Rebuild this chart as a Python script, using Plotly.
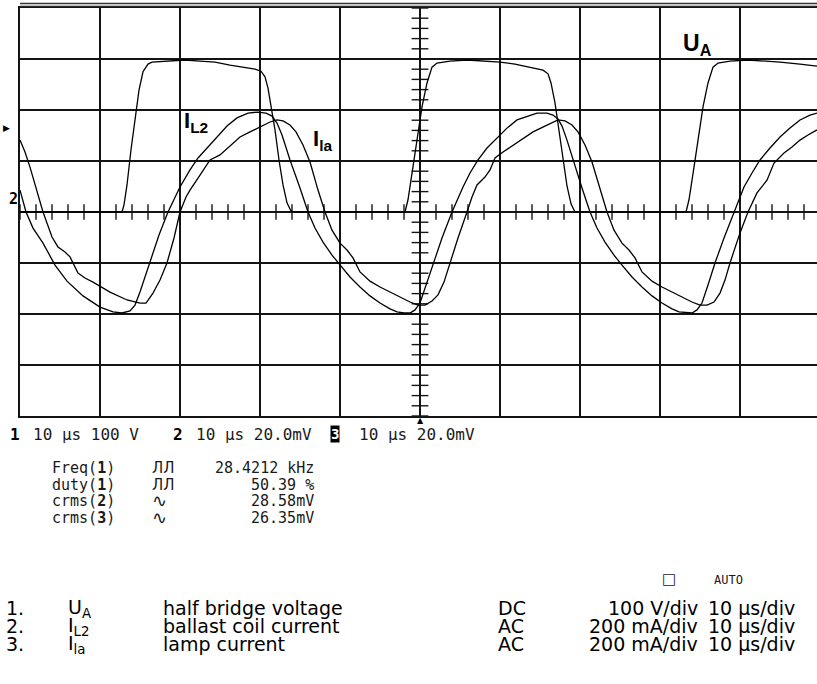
import numpy as np
import plotly.graph_objects as go

# ---------------- data ----------------
# time in microseconds (10 us/div), U_A in volts (100 V/div), currents in mA (200 mA/div)
ua_t = [0, 12.75, 13.0, 13.375, 13.875, 14.375, 14.875, 15.375, 16.0, 16.5, 18.75, 20.625,
        22.5, 24.375, 26.25, 28.125, 29.375, 30.125, 30.625, 31.0, 31.375, 31.875, 32.375,
        32.875, 33.375, 33.875, 34.25,
        48.125, 48.5, 49.125, 49.75, 50.25, 50.875, 51.5, 52.125, 53.75, 55.875, 58.125, 60.0,
        61.875, 63.75, 65.375, 66.0, 66.375, 66.875, 67.375, 67.875, 68.375, 68.875, 69.375,
        83.25, 83.625, 84.25, 84.875, 85.375, 86.0, 86.625, 87.25, 88.75, 91.0, 93.125, 95.0,
        97.5, 99.625]
ua_v = [0, 0, 14, 53, 122, 184, 239, 275, 290, 294, 296, 298,
        296, 294, 288, 284, 280, 276, 265, 243, 210, 161, 102,
        53, 18, 2, 0,
        0, 24, 88, 155, 206, 253, 284, 292, 296, 298, 296, 294,
        290, 284, 278, 271, 253, 214, 161, 102, 51, 16, 0,
        0, 24, 88, 155, 206, 253, 284, 292, 296, 298, 296, 294,
        290, 286]

il2_t = [0, 0.75, 1.625, 2.875, 4.375, 5.875, 7.875, 10.0, 11.625, 12.75, 13.75, 14.375, 15.0,
         16.25, 17.375, 18.5, 20.0, 21.25, 22.25, 23.5, 24.625, 25.875, 27.125, 28.5, 29.75,
         30.75, 31.5, 32.125, 32.75, 33.75, 35.0, 36.0, 36.875, 37.875, 39.0, 40.0, 41.25, 42.5,
         43.75, 45.0, 46.25, 47.125, 48.0, 48.75, 49.375, 50.0, 50.75, 51.625, 52.75, 54.0,
         54.75, 55.375, 56.25, 57.25, 58.375, 59.625, 60.875, 62.125, 63.375, 64.625, 65.875,
         66.625, 67.25, 67.75, 68.375, 69.25, 70.25, 71.25, 72.125, 73.125, 74.25, 75.25, 76.5,
         77.75, 79.0, 80.25, 81.5, 82.375, 83.375, 84.0, 84.625, 85.25, 86.0, 86.875, 88.0,
         89.25, 90.5, 91.5, 92.5, 93.75, 95.0, 96.25, 97.5, 98.75, 99.625]
il2_ma = [86, 0, -63, -122, -208, -271, -329, -373, -392, -396, -388, -365, -314,
          -200, -90, 0, 98, 165, 212, 255, 294, 337, 369, 388, 392,
          388, 376, 349, 302, 204, 94, 0, -63, -118, -169, -208, -255, -294,
          -329, -357, -380, -392, -396, -396, -384, -357, -286, -200, -102, 0,
          55, 98, 153, 204, 251, 290, 329, 361, 376, 388, 388,
          380, 365, 337, 282, 192, 94, 0, -63, -118, -169, -208, -255,
          -294, -329, -357, -380, -392, -396, -396, -384, -357, -286, -200, -102,
          0, 98, 153, 204, 251, 294, 329, 361, 380, 388]

ila_t = [0, 0.625, 1.25, 2.125, 2.875, 4.0, 4.75, 5.625, 6.25, 7.25, 8.125, 9.125, 11.25,
         13.375, 15.0, 15.75, 16.625, 17.5, 18.375, 19.25, 20.0, 20.75, 21.25, 22.5, 23.75,
         25.0, 26.25, 27.5, 28.75, 30.0, 31.25, 32.125, 32.875, 33.75, 34.5, 35.375, 36.25,
         37.25, 38.125, 39.0, 40.0, 40.875, 41.625, 42.5, 43.75, 45.0, 46.25, 47.5, 48.75,
         49.75, 50.625, 51.5, 52.25, 53.0, 53.75, 54.75, 55.875, 56.5, 57.125, 58.125, 58.75,
         59.375, 60.375, 61.5, 62.5, 64.125, 65.875, 67.25, 68.125, 69.0, 69.75, 70.625, 71.5,
         72.5, 73.375, 74.25, 75.25, 76.125, 76.875, 77.75, 79.0, 80.25, 81.5, 82.75, 84.0,
         85.0, 85.875, 86.75, 87.5, 88.125, 88.75, 90.0, 91.0, 92.125, 93.375, 94.25, 95.5,
         96.5, 97.5, 98.5, 99.625]
ila_ma = [282, 235, 176, 86, 0, -98, -137, -157, -176, -239, -259, -275, -314,
          -345, -357, -357, -318, -267, -200, -102, 0, 59, 86, 145, 204,
          224, 259, 294, 314, 333, 353, 361, 357, 341, 314, 263, 196,
          86, 0, -71, -122, -149, -180, -235, -271, -294, -314, -333, -353,
          -365, -365, -349, -325, -275, -200, -102, 0, 59, 106, 137, 165,
          212, 235, 259, 282, 314, 341, 361, 357, 341, 314, 263, 196,
          86, 0, -71, -122, -149, -180, -235, -271, -294, -314, -333, -353,
          -365, -365, -353, -318, -267, -200, -82, 0, 75, 125, 192, 231,
          255, 282, 302, 322]

header_texts = ["10 µs 100 V", "10 µs 20.0mV", "10 µs 20.0mV"]
meas_names = ["Freq(<b>1</b>)", "duty(<b>1</b>)", "crms(<b>2</b>)", "crms(<b>3</b>)"]
meas_icons = ["ЛЛ", "ЛЛ", "∿", "∿"]
meas_values = ["28.4212 kHz", "50.39 %", "28.58mV", "26.35mV"]

tab_num = ["1.", "2.", "3."]
tab_sym = ["U<sub>A</sub>", "I<sub>L2</sub>", "I<sub>la</sub>"]
tab_desc = ["half bridge voltage", "ballast coil current", "lamp current"]
tab_coupling = ["DC", "AC", "AC"]
tab_vdiv = ["100 V/div", "200 mA/div", "200 mA/div"]
tab_tdiv = ["10 µs/div", "10 µs/div", "10 µs/div"]

# ---------------- figure ----------------
W, H = 817, 684
def px(x):
    return x / W
def py(y):
    return 1 - y / H

GRID = "#141414"
fig = go.Figure()

# graticule minor ticks on the centre lines (decoration)
tick_t = np.arange(0, 100, 2.0)
fig.add_trace(go.Scatter(x=tick_t, y=np.zeros_like(tick_t), mode="markers",
                         marker=dict(symbol="line-ns", size=11, line=dict(width=1.4, color=GRID)),
                         hoverinfo="skip"))
tick_v = np.arange(-400, 401, 20.0)
fig.add_trace(go.Scatter(x=np.full_like(tick_v, 50.0), y=tick_v, mode="markers",
                         marker=dict(symbol="line-ew", size=12, line=dict(width=1.4, color=GRID)),
                         hoverinfo="skip"))

fig.add_trace(go.Scatter(x=ua_t, y=ua_v, mode="lines", line=dict(color="black", width=1.3),
                         name="U_A"))
fig.add_trace(go.Scatter(x=il2_t, y=il2_ma, mode="lines", line=dict(color="black", width=1.3),
                         name="I_L2", yaxis="y2"))
fig.add_trace(go.Scatter(x=ila_t, y=ila_ma, mode="lines", line=dict(color="black", width=1.3),
                         name="I_la", yaxis="y2"))

fig.update_layout(
    width=W, height=H, margin=dict(l=0, r=0, t=0, b=0),
    paper_bgcolor="white", plot_bgcolor="white", showlegend=False,
    xaxis=dict(domain=[px(20), 1], range=[0, 99.625], dtick=10, tick0=0,
               showgrid=True, gridcolor=GRID, gridwidth=1.7, zeroline=False,
               showticklabels=False, ticks="", showline=True, mirror=True,
               linecolor=GRID, linewidth=1.7, fixedrange=True),
    yaxis=dict(domain=[py(416), py(8)], range=[-400, 400], dtick=100, tick0=0,
               showgrid=True, gridcolor=GRID, gridwidth=1.7, zeroline=False,
               showticklabels=False, ticks="", showline=True, mirror=False,
               linecolor=GRID, linewidth=1.7, fixedrange=True),
    yaxis2=dict(overlaying="y", range=[-800, 800], visible=False, fixedrange=True),
)

# top double border
for yy, w in [(3.5, 1.6), (6.2, 1.0)]:
    fig.add_shape(type="line", xref="paper", yref="paper", x0=px(20), x1=1,
                  y0=py(yy), y1=py(yy), line=dict(color="#333", width=w))

ann = []
def text(x, y, s, size, family="DejaVu Sans Mono", xanchor="left", yanchor="middle",
         color="#1a1a1a", **kw):
    ann.append(dict(x=px(x), y=py(y), xref="paper", yref="paper", text=s, showarrow=False,
                    xanchor=xanchor, yanchor=yanchor,
                    font=dict(size=size, family=family, color=color), **kw))

# trace labels
LBL = "Liberation Sans"
text(681, 45, "<b>U<sub>A</sub></b>", 23, family=LBL, color="black")
text(182, 122, "<b>I<sub>L2</sub></b>", 22, family=LBL, color="black")
text(311, 140, "<b>I<sub>la</sub></b>", 22, family=LBL, color="black")

# channel markers
text(1, 128, "▶", 9, family="DejaVu Sans", color="black")
text(7, 199, "<b>2</b>", 15, color="black")
text(420, 420, "▲", 8, family="DejaVu Sans", xanchor="center", color="black")

# header line
text(8, 434, "<b>1</b>", 16, color="black")
text(31, 434, header_texts[0], 16)
text(171, 434, "<b>2</b>", 16, color="black")
text(194, 434, header_texts[1], 16)
text(330, 434, "<b>3</b>", 14, color="white", bgcolor="black", borderpad=0)
text(357, 434, header_texts[2], 16)

# measurements
for i in range(4):
    yy = 468 + i * 16.5
    text(50, yy, meas_names[i], 15)
    if meas_icons[i] == "∿":
        text(150, yy, meas_icons[i], 18, family="DejaVu Sans")
    else:
        text(150, yy, meas_icons[i], 15, family="DejaVu Sans")
    text(316, yy, meas_values[i], 15, xanchor="right")

# auto indicator
text(660, 579, "□", 15, family="DejaVu Sans")
text(712, 580, "AUTO", 12)

# legend table
TF = "DejaVu Sans"
for i in range(3):
    yy = 608 + i * 18
    text(4, yy, tab_num[i], 19, family=TF, color="black")
    text(66, yy, tab_sym[i], 19, family=TF, color="black")
    text(161, yy, tab_desc[i], 19, family=TF, color="black")
    text(496, yy, tab_coupling[i], 19, family=TF, color="black")
    text(700, yy, tab_vdiv[i], 19, family=TF, color="black", xanchor="right")
    text(706, yy, tab_tdiv[i], 19, family=TF, color="black")

fig.update_layout(annotations=ann)
fig.write_html("out.html", config={"displayModeBar": False, "staticPlot": True})
